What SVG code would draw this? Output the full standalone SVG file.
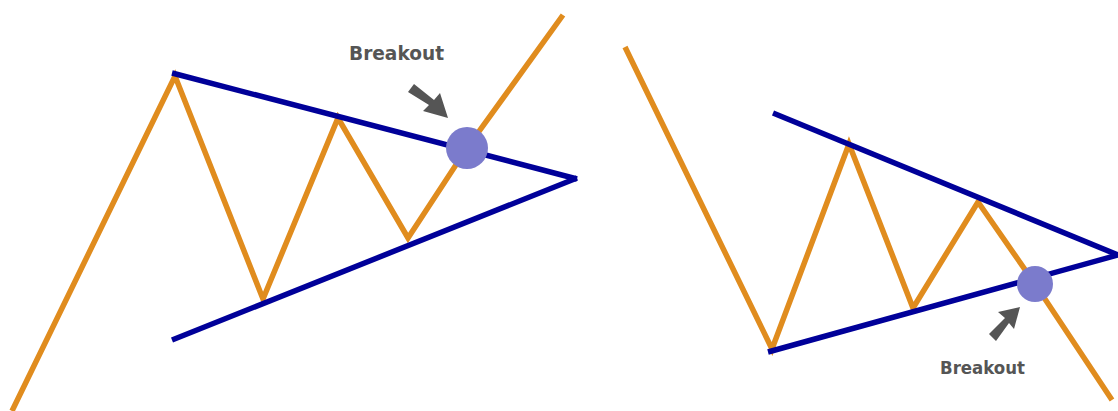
<svg xmlns="http://www.w3.org/2000/svg" width="1118" height="411" viewBox="0 0 1118 411">
<style>
.price{fill:none;stroke:#e08c1e;stroke-width:5.5;stroke-linejoin:miter;stroke-linecap:butt}
.trend{fill:none;stroke:#000099;stroke-width:5.5;stroke-linecap:butt}
.dot{fill:#7b7bcc}
.arrow{fill:#555555}
.lbl{font-family:"DejaVu Sans Condensed","DejaVu Sans",sans-serif;font-weight:bold;fill:#555555}
</style>
<rect width="1118" height="411" fill="#ffffff"/>
<g id="connectors">
<polyline class="price" points="12,411 175,76 263,299 338,118 408,238 467,148 563,15"/>
<line class="trend" x1="172" y1="73" x2="577" y2="179"/>
<line class="trend" x1="172" y1="340" x2="577" y2="178"/>
<polyline class="price" points="625,47 772,349 849,144 913,308 978,202 1035,284 1112,400"/>
<line class="trend" x1="773" y1="113" x2="1118" y2="255"/>
<line class="trend" x1="768" y1="352" x2="1118" y2="255"/>
</g>
<g id="breakout-left">
<circle class="dot" cx="467" cy="148" r="21"/>
<polygon class="arrow" points="408,92 414,84 434,100 440,93 448,118 423,111 429,105"/>
<text class="lbl" x="349" y="60" font-size="20" textLength="95" lengthAdjust="spacingAndGlyphs">Breakout</text>
</g>
<g id="breakout-right">
<circle class="dot" cx="1035" cy="284" r="18"/>
<polygon class="arrow" points="996,341 989,334 1005,318 998,312 1020,307 1014,329 1009,323"/>
<text class="lbl" x="940" y="374" font-size="18" textLength="85" lengthAdjust="spacingAndGlyphs">Breakout</text>
</g>
</svg>
